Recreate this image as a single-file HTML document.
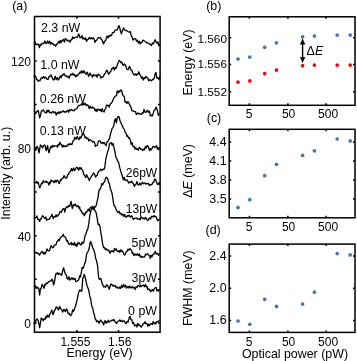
<!DOCTYPE html>
<html><head><meta charset="utf-8"><style>
html,body{margin:0;padding:0;background:#fff;}
svg{display:block;will-change:transform;font-family:"Liberation Sans", sans-serif;}
text{fill:#000;}
</style></head><body>
<svg width="357" height="361" viewBox="0 0 357 361">
<rect width="357" height="361" fill="#fff"/>
<rect x="34.5" y="16.5" width="125.60" height="315.70" fill="none" stroke="#000" stroke-width="1.5"/>
<path d="M34.5,323.00 h2.2 M160.1,323.00 h-2.2 M34.5,279.31 h2.2 M160.1,279.31 h-2.2 M34.5,235.63 h2.2 M160.1,235.63 h-2.2 M34.5,191.94 h2.2 M160.1,191.94 h-2.2 M34.5,148.26 h2.2 M160.1,148.26 h-2.2 M34.5,104.57 h2.2 M160.1,104.57 h-2.2 M34.5,60.89 h2.2 M160.1,60.89 h-2.2 M76.9,332.2 v-2.2 M76.9,16.5 v2.2 M118.5,332.2 v-2.2 M118.5,16.5 v2.2" stroke="#000" stroke-width="1.5" fill="none"/>
<text x="31.0" y="327.90" text-anchor="end" font-size="12.0" >0</text>
<text x="31.0" y="240.53" text-anchor="end" font-size="12.0" >40</text>
<text x="31.0" y="153.16" text-anchor="end" font-size="12.0" >80</text>
<text x="31.0" y="65.79" text-anchor="end" font-size="12.0" >120</text>
<text x="75.4" y="346.2" text-anchor="middle" font-size="12.0" >1.555</text>
<text x="119.8" y="346.2" text-anchor="middle" font-size="12.0" >1.56</text>
<text x="99.5" y="356.7" text-anchor="middle" font-size="12.4" >Energy (eV)</text>
<text transform="translate(9.8,173.2) rotate(-90)" text-anchor="middle" font-size="12.4">Intensity (arb. u.)</text>
<text x="12.2" y="9.8" text-anchor="start" font-size="12.4" >(a)</text>
<g fill="none" stroke="#000" stroke-width="1.3" stroke-linejoin="round" stroke-linecap="butt">
<path d="M34.00,44.05 L34.91,41.35 L35.79,44.73 L36.55,44.05 L37.48,44.63 L38.51,44.08 L39.40,47.70 L40.38,44.29 L41.34,44.88 L42.23,43.33 L43.03,43.80 L44.02,43.11 L44.89,41.00 L45.85,43.63 L46.68,43.18 L47.57,41.03 L48.52,43.22 L49.60,41.06 L50.33,44.19 L51.33,42.61 L52.08,43.89 L53.09,43.68 L54.13,45.27 L54.93,44.81 L55.65,46.21 L56.72,44.16 L57.68,43.61 L58.72,41.51 L59.47,42.88 L60.25,40.42 L61.01,42.92 L61.78,40.33 L62.55,41.03 L63.44,39.38 L64.46,42.03 L65.23,38.60 L66.26,39.56 L67.26,40.98 L68.06,40.07 L69.07,40.97 L69.98,42.24 L70.79,39.84 L71.85,39.77 L72.65,36.90 L73.69,38.30 L74.70,37.85 L75.70,36.95 L76.70,37.52 L77.57,37.16 L78.35,34.05 L79.12,34.78 L79.97,37.76 L80.92,37.67 L81.95,35.50 L82.76,38.98 L83.81,37.93 L84.85,39.28 L85.77,37.97 L86.49,41.36 L87.41,39.60 L88.41,39.25 L89.23,37.51 L90.22,38.85 L91.12,37.59 L92.04,39.02 L93.07,37.68 L94.09,39.15 L95.00,42.40 L95.94,40.53 L96.72,40.27 L97.78,38.00 L98.80,37.45 L99.64,37.96 L100.37,37.63 L101.21,39.34 L102.28,40.23 L103.10,42.98 L103.60,43.90 L104.68,41.05 L105.65,40.71 L106.39,37.66 L107.15,36.05 L107.99,37.87 L108.75,35.72 L109.49,36.66 L110.49,35.14 L111.33,35.69 L112.25,33.44 L113.01,32.30 L114.03,32.41 L115.10,30.09 L116.05,30.22 L116.82,29.92 L117.60,29.13 L118.60,26.00 L119.33,25.92 L120.25,30.02 L121.40,33.90 L122.00,31.86 L122.81,30.10 L123.54,27.80 L124.53,29.65 L125.39,30.28 L126.37,30.50 L127.32,31.17 L128.23,31.74 L129.25,32.20 L130.22,31.48 L130.97,34.74 L131.92,36.66 L132.93,40.08 L133.88,38.69 L134.63,38.90 L135.62,38.77 L136.51,41.12 L137.46,40.11 L138.29,42.96 L139.25,41.27 L140.16,43.96 L141.20,42.45 L141.93,42.54 L142.81,40.11 L143.74,40.57 L144.50,40.85 L145.48,41.92 L146.21,42.02 L147.04,43.02 L148.06,43.18 L148.82,43.17 L149.65,44.05 L150.58,44.52 L151.32,45.55 L152.37,42.99 L153.23,43.99 L154.17,42.11 L155.15,39.65 L156.14,41.86 L156.91,43.16 L157.90,42.02 L158.82,45.78 L159.86,44.11"/>
<path d="M34.00,76.79 L34.75,74.92 L35.74,77.08 L36.60,79.65 L37.36,79.61 L38.16,81.27 L39.22,80.45 L39.96,80.65 L40.89,78.24 L41.91,77.41 L42.66,78.15 L43.72,76.46 L44.61,78.25 L45.66,77.08 L46.90,79.30 L48.02,79.43 L49.08,76.43 L49.89,76.56 L51.10,75.00 L52.39,78.15 L53.30,80.00 L54.26,79.37 L55.27,76.27 L56.33,79.72 L57.29,77.71 L58.36,80.11 L59.41,77.97 L60.46,75.90 L61.19,77.70 L62.03,74.94 L63.10,75.08 L64.00,73.60 L64.68,75.00 L65.47,75.98 L66.34,75.79 L67.07,76.95 L68.06,76.29 L69.13,78.26 L69.95,75.80 L70.90,73.99 L71.96,74.98 L72.83,73.26 L73.84,75.07 L74.78,74.63 L75.78,77.10 L76.53,75.36 L77.60,75.73 L78.35,73.99 L79.23,73.70 L80.19,71.70 L80.96,73.12 L81.94,70.64 L82.98,73.04 L84.06,70.90 L85.14,73.16 L86.16,74.19 L86.95,72.12 L87.80,73.81 L88.60,76.40 L90.00,72.90 L90.53,74.80 L91.50,75.09 L92.50,77.24 L93.42,74.39 L94.29,75.38 L95.12,75.81 L96.15,74.82 L97.14,77.13 L98.15,74.14 L98.93,74.84 L99.98,75.42 L100.88,77.98 L101.64,77.19 L102.43,77.23 L103.32,76.63 L104.37,74.08 L105.37,73.16 L106.40,70.70 L107.25,70.36 L107.98,72.75 L108.60,74.30 L109.95,72.05 L110.82,71.69 L111.55,68.70 L112.55,68.78 L113.44,67.09 L114.32,70.06 L115.30,67.51 L116.20,68.38 L117.23,65.11 L118.02,63.12 L119.07,60.46 L119.81,60.96 L120.86,62.63 L121.76,61.97 L122.59,64.76 L123.56,65.38 L124.47,63.89 L125.39,64.84 L126.46,68.24 L127.10,69.30 L128.28,69.49 L129.30,66.40 L130.22,67.69 L130.95,70.08 L131.86,70.22 L132.59,72.84 L133.43,73.70 L134.23,75.12 L135.29,73.86 L136.32,75.38 L137.04,73.89 L138.00,74.44 L138.81,71.78 L139.61,74.12 L140.53,75.36 L141.43,78.27 L142.26,76.82 L143.30,80.00 L144.13,77.64 L144.89,78.44 L145.86,76.39 L146.78,77.56 L147.59,77.60 L148.63,80.75 L149.69,79.58 L150.53,80.32 L151.50,80.95 L152.52,79.41 L153.50,79.49 L154.44,77.44 L155.40,72.90 L155.94,72.48 L156.91,78.02 L157.93,77.84 L158.96,79.50 L159.76,76.25"/>
<path d="M34.00,112.10 L34.76,111.68 L35.59,113.79 L36.57,112.01 L37.47,110.82 L38.30,110.70 L39.70,117.90 L40.33,116.19 L41.40,111.01 L42.41,110.88 L43.43,109.82 L44.22,111.89 L45.17,112.34 L46.18,113.08 L47.04,110.16 L47.83,112.00 L48.69,110.15 L49.68,112.79 L50.52,112.29 L51.50,112.99 L52.43,111.93 L53.24,111.48 L54.26,112.85 L55.17,111.99 L56.24,115.06 L57.10,112.76 L57.98,113.65 L58.77,111.73 L59.74,113.38 L60.51,111.92 L61.56,112.40 L62.43,111.15 L63.43,110.99 L64.38,112.32 L65.13,111.58 L66.08,112.12 L67.03,110.87 L67.81,110.34 L68.71,112.14 L69.71,109.58 L70.64,110.64 L71.59,109.42 L72.65,110.70 L73.64,110.34 L74.38,110.71 L75.25,109.08 L76.07,109.11 L76.98,108.24 L77.77,106.72 L78.72,105.50 L79.79,105.28 L80.80,104.97 L81.82,103.55 L82.68,105.31 L83.40,103.36 L84.29,104.61 L85.14,103.17 L86.16,105.58 L87.18,104.74 L88.14,105.32 L89.14,108.61 L89.92,106.17 L90.88,107.89 L91.67,107.98 L92.55,106.88 L93.35,108.11 L94.24,108.09 L95.15,110.91 L96.08,109.16 L96.95,111.64 L97.68,109.43 L98.52,109.21 L99.56,110.25 L100.40,109.40 L101.31,111.65 L102.23,108.54 L103.13,111.18 L104.09,111.97 L104.91,109.39 L105.65,108.82 L106.39,105.24 L107.33,105.51 L108.27,105.24 L109.20,107.13 L110.19,104.04 L111.24,103.18 L112.25,101.77 L113.08,99.45 L113.82,98.30 L114.75,96.62 L115.61,95.92 L116.50,95.55 L117.27,90.95 L118.34,92.78 L119.07,91.03 L119.81,91.90 L120.40,90.00 L121.67,90.53 L122.40,94.11 L123.15,95.78 L124.18,96.28 L125.05,102.14 L126.01,101.43 L127.01,103.55 L127.84,101.66 L128.85,102.95 L129.87,105.30 L130.91,106.99 L131.95,110.90 L132.83,110.92 L133.56,111.02 L134.49,111.67 L135.45,111.63 L136.37,114.46 L137.18,113.56 L137.97,112.90 L138.86,113.81 L139.66,113.71 L140.57,114.35 L141.36,114.39 L142.28,112.76 L143.02,113.12 L143.97,109.42 L144.87,112.10 L145.77,112.46 L146.83,110.69 L147.64,110.47 L148.38,112.43 L149.44,111.26 L150.20,115.73 L151.27,115.05 L152.04,116.18 L152.78,114.81 L153.82,111.08 L154.78,110.32 L156.10,107.10 L157.37,110.35 L158.35,115.27 L159.41,113.23"/>
<path d="M34.00,148.86 L34.95,149.39 L35.84,150.43 L36.82,146.38 L37.60,147.10 L38.46,150.18 L39.00,152.90 L40.40,145.00 L41.63,146.24 L42.60,147.90 L43.62,145.49 L44.70,145.00 L45.33,146.37 L46.10,150.70 L47.60,145.70 L48.21,149.92 L49.00,152.90 L50.10,148.49 L51.15,146.15 L51.94,147.59 L52.79,145.45 L53.70,146.64 L54.73,146.10 L55.72,145.79 L56.62,145.80 L57.35,147.29 L58.16,144.47 L58.95,145.25 L59.85,142.28 L60.59,144.06 L61.41,144.29 L62.34,147.03 L63.12,145.18 L63.99,146.87 L65.05,145.62 L65.89,146.48 L66.94,146.36 L67.85,144.29 L68.72,145.07 L69.47,143.68 L70.24,144.67 L71.18,144.20 L71.92,144.46 L72.83,141.11 L73.74,140.98 L74.57,137.27 L75.47,137.99 L76.25,139.40 L77.07,136.47 L78.01,138.10 L78.99,139.77 L79.88,136.87 L80.73,138.26 L81.54,136.38 L82.61,134.10 L83.30,133.60 L84.22,134.97 L85.02,137.79 L85.86,137.06 L86.89,138.73 L87.87,137.93 L88.85,141.18 L89.84,139.51 L90.77,140.28 L91.71,140.76 L92.69,142.04 L93.55,141.68 L94.45,141.89 L95.38,146.30 L96.40,145.70 L97.27,145.24 L98.17,141.89 L99.30,140.70 L100.11,141.14 L101.17,143.27 L102.03,142.46 L103.06,143.68 L104.01,142.37 L105.02,144.15 L106.04,145.75 L107.06,141.72 L107.83,141.86 L108.62,139.58 L109.47,138.91 L110.33,134.66 L111.06,132.10 L112.02,128.77 L112.83,127.52 L113.76,125.68 L114.52,121.05 L115.40,118.60 L116.40,122.90 L117.11,118.38 L117.96,116.53 L119.00,116.55 L119.94,120.51 L120.77,122.28 L121.71,124.88 L122.52,126.16 L123.35,128.34 L124.16,129.15 L125.23,132.27 L126.14,133.54 L126.90,136.40 L127.69,135.76 L128.53,138.25 L129.35,137.68 L130.36,140.35 L131.22,144.51 L132.02,142.67 L133.06,146.56 L134.00,146.31 L134.91,149.08 L135.86,147.72 L136.61,149.32 L137.57,148.87 L138.47,150.22 L139.24,147.31 L140.24,148.13 L141.06,149.47 L141.90,149.22 L142.71,150.62 L143.50,149.06 L144.47,149.76 L145.30,146.66 L146.09,147.92 L146.90,145.94 L147.60,145.70 L148.36,146.79 L149.16,149.69 L149.70,150.70 L150.21,148.35 L151.20,149.88 L152.07,148.52 L153.09,146.39 L154.06,146.66 L154.83,147.49 L155.64,146.83 L156.56,145.53 L157.35,149.13 L158.16,147.65 L159.22,150.36"/>
<path d="M34.00,183.30 L34.99,182.22 L35.88,182.84 L36.70,181.26 L37.49,183.23 L38.33,182.53 L39.08,185.88 L39.70,187.90 L40.59,185.67 L41.50,183.19 L42.45,183.66 L43.26,180.71 L44.08,181.82 L45.14,182.23 L46.12,181.05 L46.98,182.55 L47.78,182.10 L49.00,185.00 L49.70,182.04 L50.45,183.00 L51.10,180.00 L52.18,181.22 L53.18,181.08 L54.05,182.77 L55.07,180.34 L55.99,182.30 L56.88,180.15 L57.95,180.65 L59.00,183.60 L59.62,182.79 L60.44,179.57 L61.23,180.08 L62.19,178.44 L63.10,178.10 L64.00,175.70 L65.40,177.90 L66.72,177.99 L67.60,174.99 L68.59,174.27 L69.34,172.01 L70.41,171.57 L71.41,168.43 L72.34,170.92 L73.38,168.15 L74.70,170.70 L75.43,168.63 L76.10,167.90 L77.02,167.23 L77.78,168.75 L78.57,170.29 L79.33,167.51 L80.25,169.07 L81.02,167.58 L82.03,169.72 L82.93,170.87 L83.72,174.45 L84.61,175.30 L85.64,177.51 L86.69,174.67 L87.57,177.32 L88.30,177.87 L89.30,180.70 L90.00,178.67 L90.92,177.35 L91.66,175.91 L92.66,174.68 L93.60,172.90 L94.44,174.20 L95.70,177.10 L96.21,176.05 L97.29,175.06 L98.09,172.26 L98.98,171.29 L99.76,170.66 L100.74,169.22 L101.79,170.58 L102.86,169.24 L103.90,169.33 L104.72,167.73 L105.69,160.09 L106.63,155.28 L107.61,151.88 L108.62,149.16 L109.41,144.23 L110.46,142.87 L111.42,142.71 L112.16,145.31 L113.06,143.47 L114.11,148.23 L115.05,152.21 L115.83,157.01 L116.84,158.70 L117.76,161.18 L118.75,162.86 L119.74,167.64 L120.63,170.71 L121.40,173.57 L122.39,176.31 L123.39,179.79 L124.29,177.32 L125.06,180.08 L125.84,180.36 L126.91,179.98 L127.92,181.39 L128.68,183.07 L129.71,181.86 L130.76,182.53 L131.57,181.15 L132.37,182.85 L133.44,183.72 L134.47,186.44 L135.30,184.53 L136.07,184.23 L137.00,181.43 L138.00,184.86 L138.83,185.05 L139.88,183.14 L140.66,184.86 L141.64,183.94 L142.44,182.28 L143.34,183.73 L144.07,183.09 L144.83,182.83 L145.80,184.24 L146.56,183.30 L147.41,183.61 L148.39,183.33 L149.13,185.46 L149.98,184.47 L150.89,184.90 L151.93,184.40 L152.80,182.44 L153.67,182.56 L154.60,179.05 L155.40,179.30 L156.46,182.10 L157.41,184.24 L158.13,184.53 L159.06,182.46 L159.92,184.91"/>
<path d="M34.00,219.21 L34.92,217.61 L35.96,217.68 L36.85,215.93 L37.76,219.33 L38.54,219.17 L39.70,221.40 L40.42,218.90 L41.20,219.12 L42.60,215.70 L44.07,217.63 L44.97,218.57 L45.83,216.94 L46.62,220.25 L47.64,219.32 L48.43,219.42 L49.28,219.24 L50.26,217.66 L51.27,216.22 L51.90,214.30 L53.30,218.60 L54.17,216.68 L55.21,216.91 L56.10,214.74 L57.14,216.57 L58.16,214.87 L58.89,214.85 L59.89,211.69 L60.65,212.00 L61.39,212.36 L62.13,210.33 L63.30,208.60 L64.05,208.47 L64.70,212.10 L65.76,208.14 L66.77,206.73 L67.69,207.44 L68.62,205.66 L69.67,206.35 L70.53,203.21 L71.10,201.40 L72.30,208.60 L73.51,204.81 L74.25,205.36 L75.30,203.93 L76.26,206.31 L77.03,206.70 L78.04,205.46 L78.85,208.09 L79.59,206.78 L80.39,210.54 L81.17,210.74 L81.94,212.25 L82.68,213.85 L83.59,213.77 L84.47,215.74 L85.52,212.25 L86.34,212.66 L87.40,210.95 L88.33,209.13 L89.38,211.15 L90.31,207.49 L91.27,207.01 L92.08,209.13 L92.82,206.07 L93.76,209.25 L94.71,206.46 L95.56,207.01 L96.40,204.60 L97.18,201.33 L98.08,197.06 L98.99,190.43 L99.85,189.58 L100.75,187.90 L101.76,183.59 L102.75,184.70 L103.66,182.42 L104.58,182.04 L105.56,178.25 L106.40,177.10 L107.14,177.84 L107.86,179.16 L108.61,182.54 L109.39,183.42 L110.23,188.40 L111.12,190.55 L112.11,193.56 L113.11,200.42 L113.89,205.28 L114.66,206.16 L115.65,208.07 L116.53,210.63 L117.35,211.73 L118.11,212.50 L119.14,211.28 L120.03,214.13 L120.89,213.29 L121.95,215.17 L122.91,214.08 L123.93,216.56 L124.69,214.54 L125.57,216.77 L126.52,217.29 L127.40,215.64 L128.36,216.14 L129.18,215.05 L130.22,217.08 L131.12,216.33 L131.91,215.87 L132.69,218.45 L133.50,219.45 L134.41,218.33 L135.37,218.15 L136.43,217.81 L137.29,219.01 L138.19,219.21 L139.21,218.53 L140.20,219.72 L140.93,216.56 L141.70,217.47 L142.56,218.77 L143.56,218.08 L144.63,218.98 L145.49,217.33 L146.31,218.33 L147.31,220.19 L148.09,220.48 L148.92,218.46 L149.70,217.98 L150.54,219.11 L151.40,216.33 L152.28,216.51 L153.11,217.05 L154.04,215.54 L154.89,216.64 L155.83,216.48 L156.85,218.63 L157.67,220.71 L158.63,219.42 L159.46,220.11"/>
<path d="M34.00,251.36 L34.99,252.14 L35.83,252.93 L36.74,252.50 L37.58,253.61 L38.61,253.31 L39.54,255.20 L40.56,253.31 L41.90,251.40 L42.47,251.71 L43.45,254.12 L44.19,252.40 L44.99,254.07 L46.00,251.95 L47.02,248.93 L47.84,250.47 L48.85,251.02 L49.65,250.22 L50.57,246.80 L51.10,245.70 L52.60,247.90 L53.34,247.46 L54.20,245.18 L55.24,245.09 L56.07,244.67 L56.96,241.42 L57.80,241.30 L58.59,239.37 L59.38,240.48 L60.35,237.68 L61.40,236.77 L62.20,236.31 L63.30,234.30 L64.09,236.68 L64.88,236.98 L65.76,237.68 L66.65,241.09 L67.54,240.48 L68.44,243.85 L69.42,244.47 L70.40,243.51 L71.17,242.54 L71.90,245.00 L72.63,243.57 L73.47,244.87 L74.42,242.39 L75.17,245.65 L76.11,244.17 L76.85,246.45 L77.81,242.55 L78.70,243.71 L79.30,242.90 L80.31,244.58 L81.40,245.00 L82.03,242.04 L82.99,243.16 L83.80,242.65 L84.87,236.41 L85.78,234.55 L86.83,231.00 L87.84,228.88 L88.85,223.24 L89.71,216.36 L90.73,211.32 L91.69,208.40 L92.76,208.73 L93.74,208.10 L94.59,210.47 L95.53,211.01 L96.28,213.62 L97.19,218.37 L98.14,224.59 L99.19,224.19 L100.15,227.50 L100.94,233.16 L101.75,237.81 L102.50,243.29 L103.56,247.72 L104.55,247.50 L105.35,249.92 L106.35,248.84 L107.26,250.06 L108.21,250.00 L108.99,250.98 L110.04,253.31 L111.11,250.82 L111.84,251.23 L112.62,250.77 L113.61,252.18 L114.58,248.46 L115.51,250.08 L116.34,248.90 L117.11,250.91 L118.08,251.68 L118.83,250.55 L119.71,252.43 L120.73,249.80 L121.76,251.36 L122.48,250.82 L123.44,253.35 L124.30,255.00 L125.17,254.58 L126.20,251.65 L127.18,251.35 L128.03,249.09 L128.85,250.08 L130.10,248.60 L131.55,250.39 L132.31,253.28 L133.07,252.88 L133.84,255.66 L134.89,253.88 L135.82,255.21 L136.58,255.22 L137.36,253.62 L138.41,255.55 L139.29,254.00 L140.06,256.96 L140.78,255.93 L141.67,257.45 L142.57,256.53 L143.58,257.21 L144.43,257.11 L145.48,254.10 L146.25,254.90 L147.60,253.60 L148.37,254.96 L149.43,255.54 L150.23,258.23 L151.03,255.20 L151.87,257.08 L152.89,254.51 L153.77,254.37 L154.58,252.42 L155.40,251.40 L156.09,254.11 L156.96,253.21 L158.02,254.39 L158.76,255.34 L159.58,253.06"/>
<path d="M34.00,286.41 L34.90,284.99 L35.91,288.44 L36.66,286.78 L37.63,288.22 L38.59,287.96 L39.70,295.00 L40.37,288.90 L41.16,288.25 L42.03,284.38 L43.08,286.15 L44.04,288.26 L44.85,284.27 L45.60,284.98 L46.45,282.87 L47.34,283.42 L48.20,282.16 L49.15,281.71 L49.94,281.07 L50.95,281.19 L51.90,279.30 L52.70,280.19 L53.42,284.86 L54.15,283.64 L54.92,279.02 L55.80,273.91 L56.57,273.76 L57.39,272.71 L58.29,274.60 L59.02,273.28 L60.00,273.69 L61.10,275.00 L61.76,275.08 L62.53,271.25 L63.60,267.90 L64.46,270.96 L65.28,273.89 L66.33,275.05 L67.14,278.48 L68.12,279.08 L68.95,276.77 L69.69,280.07 L70.58,279.52 L71.43,277.92 L72.19,279.28 L73.00,277.85 L73.97,279.50 L75.03,278.38 L75.91,281.63 L76.96,281.32 L77.79,280.28 L78.67,280.10 L79.73,275.54 L80.49,277.03 L81.27,272.98 L82.11,267.30 L82.93,268.35 L83.82,266.68 L84.70,263.25 L85.49,262.26 L86.30,255.77 L87.08,252.60 L88.06,251.59 L89.10,248.79 L90.14,242.63 L90.70,241.40 L92.00,245.26 L92.87,248.35 L93.68,249.48 L94.66,252.93 L95.61,257.98 L96.53,260.87 L97.55,265.50 L98.61,277.26 L99.35,279.37 L100.19,278.73 L100.99,278.69 L101.72,282.27 L102.70,284.63 L103.71,287.01 L104.75,286.45 L105.59,287.24 L106.52,284.88 L107.10,285.00 L108.24,286.81 L109.30,289.30 L109.98,286.38 L110.99,284.10 L111.78,284.36 L112.64,285.93 L113.47,285.10 L114.39,286.26 L115.45,285.67 L116.24,287.74 L117.27,287.00 L118.00,288.18 L119.06,288.23 L119.83,286.85 L120.77,288.48 L121.66,285.15 L122.65,287.38 L123.59,284.34 L124.58,286.89 L125.60,285.27 L126.35,288.10 L127.12,287.23 L127.96,286.36 L128.83,287.96 L129.63,285.93 L130.41,287.59 L131.31,288.04 L132.24,286.37 L133.31,288.08 L134.16,287.18 L135.19,289.58 L136.03,286.86 L136.91,287.51 L137.89,285.42 L138.90,285.88 L139.96,286.77 L140.72,285.38 L141.56,286.47 L142.60,285.40 L143.55,285.15 L144.49,286.77 L145.34,284.44 L146.18,286.83 L146.97,286.26 L147.77,289.61 L148.82,288.92 L149.57,289.63 L150.56,291.76 L151.59,290.43 L152.33,289.60 L153.28,291.20 L154.24,288.75 L155.11,287.86 L156.19,287.51 L157.04,291.03 L157.77,289.73 L158.65,291.14 L159.52,288.93"/>
<path d="M34.00,324.28 L34.72,321.45 L35.44,322.02 L36.37,319.41 L37.43,319.08 L38.29,321.05 L39.70,327.90 L41.16,318.07 L41.90,318.60 L43.30,320.70 L44.01,318.72 L45.04,319.42 L46.02,316.08 L46.82,317.64 L47.60,315.00 L49.00,317.10 L49.76,314.06 L50.75,312.52 L51.90,310.00 L52.77,314.49 L53.30,314.30 L54.40,310.45 L55.38,309.51 L56.15,306.91 L56.90,307.10 L58.30,310.00 L59.04,308.67 L59.70,306.40 L60.74,308.78 L61.73,309.73 L62.60,312.10 L64.00,309.30 L65.41,311.69 L66.48,308.81 L67.33,310.22 L68.13,313.73 L69.19,313.27 L70.40,315.70 L70.99,315.17 L71.79,314.11 L72.59,309.98 L73.56,311.33 L74.53,308.66 L75.36,306.54 L76.30,303.27 L77.32,299.06 L78.35,293.68 L79.22,290.57 L79.98,289.99 L80.94,290.99 L81.88,291.04 L82.73,278.69 L83.50,276.90 L84.30,274.30 L85.32,277.96 L86.31,282.69 L87.07,286.00 L88.06,288.15 L88.95,291.13 L89.73,296.20 L90.68,298.77 L91.74,306.20 L92.79,308.25 L93.53,312.43 L94.30,314.20 L95.06,318.68 L95.84,319.49 L96.59,321.79 L97.38,320.82 L98.22,321.39 L99.09,323.29 L99.83,321.27 L100.70,320.00 L101.55,321.77 L102.61,322.39 L103.60,325.00 L104.43,321.57 L105.19,320.63 L106.04,323.31 L106.85,321.66 L107.61,322.33 L108.38,320.19 L109.24,322.17 L110.28,321.02 L111.28,320.83 L112.23,319.87 L113.14,320.65 L114.04,319.48 L114.94,321.81 L115.85,322.38 L116.40,323.60 L117.71,321.50 L118.72,321.15 L119.61,319.95 L120.60,321.27 L121.55,320.21 L122.37,321.83 L123.44,320.90 L124.45,320.98 L125.46,323.35 L126.10,323.60 L127.30,321.30 L128.13,322.08 L129.18,317.88 L130.10,316.40 L130.99,319.71 L131.92,319.88 L132.64,323.35 L133.61,322.55 L134.55,326.06 L135.35,325.27 L136.09,324.79 L136.99,326.98 L137.84,323.40 L138.87,325.39 L139.60,324.93 L141.10,327.10 L142.48,325.43 L143.24,323.34 L144.32,323.52 L145.04,321.65 L145.94,323.62 L147.01,323.63 L147.87,326.27 L148.71,324.10 L149.46,325.69 L150.42,323.80 L151.44,323.74 L152.29,324.66 L153.17,321.43 L154.19,323.90 L154.99,322.60 L155.89,323.87 L156.86,321.61 L157.80,321.64 L158.72,320.79 L159.49,321.24"/>
</g>
<text x="41.0" y="31.8" text-anchor="start" font-size="12.4" >2.3 nW</text>
<text x="40.3" y="68.8" text-anchor="start" font-size="12.4" >1.0 nW</text>
<text x="39.8" y="102.8" text-anchor="start" font-size="12.4" >0.26 nW</text>
<text x="39.8" y="135.3" text-anchor="start" font-size="12.4" >0.13 nW</text>
<text x="157.2" y="176.8" text-anchor="end" font-size="12.0" >26pW</text>
<text x="157.2" y="212.6" text-anchor="end" font-size="12.0" >13pW</text>
<text x="157.0" y="247.4" text-anchor="end" font-size="12.4" >5pW</text>
<text x="157.0" y="282.1" text-anchor="end" font-size="12.4" >3pW</text>
<text x="157.0" y="315.1" text-anchor="end" font-size="12.4" >0 pW</text>
<rect x="229.2" y="16.8" width="125.80" height="88.50" fill="none" stroke="#000" stroke-width="1.5"/>
<text x="227.0" y="42.60" text-anchor="end" font-size="11.8" >1.560</text>
<text x="227.0" y="67.90" text-anchor="end" font-size="11.8" >1.556</text>
<text x="227.0" y="96.10" text-anchor="end" font-size="11.8" >1.552</text>
<path d="M229.2,37.7 h2 M355.0,37.7 h-2 M229.2,64.4 h2 M355.0,64.4 h-2 M229.2,91.7 h2 M355.0,91.7 h-2 M249.4,105.3 v-2 M249.4,16.8 v2 M287.9,105.3 v-2 M287.9,16.8 v2 M326.1,105.3 v-2 M326.1,16.8 v2" stroke="#000" stroke-width="1.5" fill="none"/>
<text x="249.20" y="117.7" text-anchor="middle" font-size="12.0" >5</text>
<text x="288.60" y="117.7" text-anchor="middle" font-size="12.0" >50</text>
<text x="328.10" y="117.7" text-anchor="middle" font-size="12.0" >500</text>
<text x="206.2" y="10.2" text-anchor="start" font-size="12.4" >(b)</text>
<text transform="translate(192.0,62.5) rotate(-90)" text-anchor="middle" font-size="12.4">Energy (eV)</text>
<rect x="229.2" y="129.3" width="125.80" height="88.50" fill="none" stroke="#000" stroke-width="1.5"/>
<text x="226.6" y="145.70" text-anchor="end" font-size="12.4" >4.4</text>
<text x="226.6" y="164.60" text-anchor="end" font-size="12.4" >4.1</text>
<text x="226.6" y="183.60" text-anchor="end" font-size="12.4" >3.8</text>
<text x="226.6" y="202.60" text-anchor="end" font-size="12.4" >3.5</text>
<path d="M229.2,142.1 h2 M355.0,142.1 h-2 M229.2,161.0 h2 M355.0,161.0 h-2 M229.2,180.0 h2 M355.0,180.0 h-2 M229.2,199.0 h2 M355.0,199.0 h-2 M249.4,217.8 v-2 M249.4,129.3 v2 M287.9,217.8 v-2 M287.9,129.3 v2 M326.1,217.8 v-2 M326.1,129.3 v2" stroke="#000" stroke-width="1.5" fill="none"/>
<text x="249.20" y="231.0" text-anchor="middle" font-size="12.0" >5</text>
<text x="288.60" y="231.0" text-anchor="middle" font-size="12.0" >50</text>
<text x="328.10" y="231.0" text-anchor="middle" font-size="12.0" >500</text>
<text x="206.8" y="122.2" text-anchor="start" font-size="12.4" >(c)</text>
<text transform="translate(192.0,170.9) rotate(-90)" text-anchor="middle" font-size="12.4">Δ<tspan font-style="italic">E</tspan> (meV)</text>
<rect x="229.2" y="244.1" width="125.80" height="88.30" fill="none" stroke="#000" stroke-width="1.5"/>
<text x="226.6" y="260.00" text-anchor="end" font-size="12.4" >2.4</text>
<text x="226.6" y="292.20" text-anchor="end" font-size="12.4" >2.0</text>
<text x="226.6" y="324.40" text-anchor="end" font-size="12.4" >1.6</text>
<path d="M229.2,256.0 h2 M355.0,256.0 h-2 M229.2,288.2 h2 M355.0,288.2 h-2 M229.2,320.4 h2 M355.0,320.4 h-2 M249.4,332.4 v-2 M249.4,244.1 v2 M287.9,332.4 v-2 M287.9,244.1 v2 M326.1,332.4 v-2 M326.1,244.1 v2" stroke="#000" stroke-width="1.5" fill="none"/>
<text x="249.20" y="345.6" text-anchor="middle" font-size="12.0" >5</text>
<text x="288.60" y="345.6" text-anchor="middle" font-size="12.0" >50</text>
<text x="328.10" y="345.6" text-anchor="middle" font-size="12.0" >500</text>
<text x="205.6" y="233.9" text-anchor="start" font-size="12.4" >(d)</text>
<text transform="translate(192.0,288.1) rotate(-90)" text-anchor="middle" font-size="12.4">FWHM (meV)</text>
<text x="295.0" y="357.8" text-anchor="middle" font-size="12.4" >Optical power (pW)</text>
<circle cx="238.0" cy="59.0" r="1.85" fill="#4874be"/><circle cx="249.8" cy="57.1" r="1.85" fill="#4874be"/><circle cx="264.7" cy="47.3" r="1.85" fill="#4874be"/><circle cx="276.5" cy="42.8" r="1.85" fill="#4874be"/><circle cx="302.6" cy="36.8" r="1.85" fill="#4874be"/><circle cx="314.4" cy="36.1" r="1.85" fill="#4874be"/><circle cx="337.2" cy="35.1" r="1.85" fill="#4874be"/><circle cx="350.2" cy="35.1" r="1.85" fill="#4874be"/><circle cx="238.0" cy="82.1" r="1.85" fill="#ff0000"/><circle cx="249.8" cy="80.9" r="1.85" fill="#ff0000"/><circle cx="264.7" cy="73.6" r="1.85" fill="#ff0000"/><circle cx="276.5" cy="70.1" r="1.85" fill="#ff0000"/><circle cx="302.6" cy="65.7" r="1.85" fill="#ff0000"/><circle cx="314.4" cy="65.1" r="1.85" fill="#ff0000"/><circle cx="337.2" cy="65.1" r="1.85" fill="#ff0000"/><circle cx="350.2" cy="65.1" r="1.85" fill="#ff0000"/><circle cx="238.0" cy="207.6" r="1.85" fill="#4874be"/><circle cx="249.8" cy="199.7" r="1.85" fill="#4874be"/><circle cx="264.7" cy="175.7" r="1.85" fill="#4874be"/><circle cx="276.5" cy="164.3" r="1.85" fill="#4874be"/><circle cx="302.6" cy="155.4" r="1.85" fill="#4874be"/><circle cx="314.4" cy="150.8" r="1.85" fill="#4874be"/><circle cx="337.2" cy="139.0" r="1.85" fill="#4874be"/><circle cx="350.2" cy="140.9" r="1.85" fill="#4874be"/><circle cx="238.0" cy="321.0" r="1.85" fill="#4874be"/><circle cx="249.8" cy="324.3" r="1.85" fill="#4874be"/><circle cx="264.7" cy="299.3" r="1.85" fill="#4874be"/><circle cx="276.5" cy="306.4" r="1.85" fill="#4874be"/><circle cx="302.6" cy="304.1" r="1.85" fill="#4874be"/><circle cx="314.4" cy="292.2" r="1.85" fill="#4874be"/><circle cx="337.2" cy="253.6" r="1.85" fill="#4874be"/><circle cx="350.2" cy="254.9" r="1.85" fill="#4874be"/>
<path d="M302.6,43 V58.5" stroke="#000" stroke-width="1.4"/>
<path d="M302.6,38.6 L299.9,44.5 L305.3,44.5 Z M302.6,62.9 L299.9,57 L305.3,57 Z" fill="#000"/>
<text x="306.6" y="55.4" font-size="12.4">Δ<tspan font-style="italic">E</tspan></text>
</svg>
</body></html>
